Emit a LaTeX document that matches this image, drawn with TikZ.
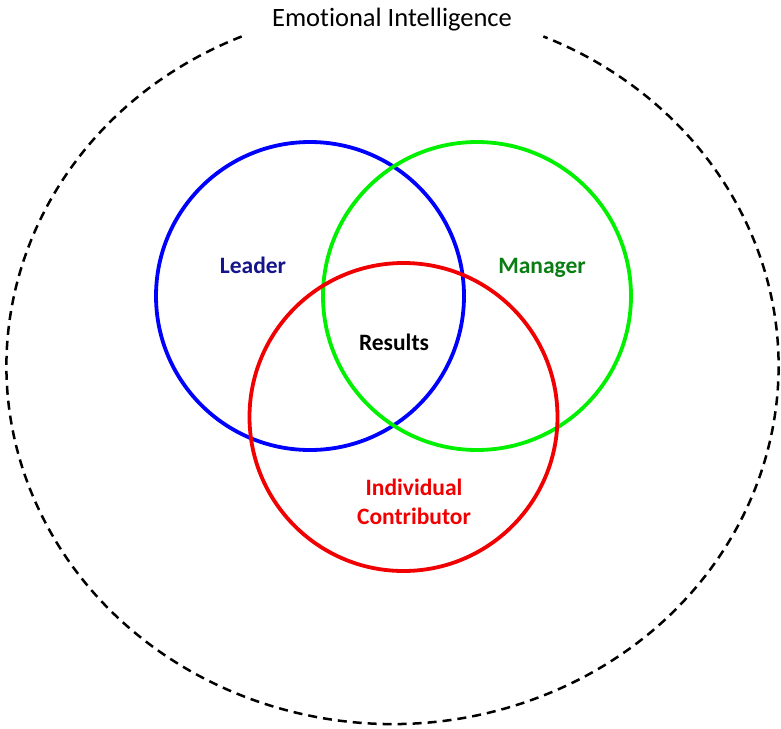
\documentclass[tikz,border=0pt]{standalone}
\usepackage{fontspec}
\setmainfont[Ligatures=NoCommon]{Carlito}
\usepackage{xcolor}
\usetikzlibrary{positioning}
\definecolor{ringblue}{RGB}{0,0,255}
\definecolor{ringgreen}{RGB}{0,240,0}
\definecolor{ringred}{RGB}{240,0,0}
\definecolor{leadertext}{RGB}{20,20,140}
\definecolor{managertext}{RGB}{10,125,20}

\begin{document}
\begin{tikzpicture}[x=1pt,y=-1pt,
  ring/.style={draw=#1,circle,line width=3.8pt,minimum size=308pt,inner sep=0pt},
  tag/.style={font=\bfseries\fontsize{23.5}{29}\selectfont,align=center}]
  \useasboundingbox (0,0) rectangle (781,728);
  % outer boundary
  \coordinate (ei) at (392.5,366);
  \node[font=\fontsize{26.5}{30}\selectfont] (title) at (392,20) {Emotional Intelligence};
  \draw[dash pattern=on 9pt off 6pt,line width=2.5pt]
    ([shift={(113:386pt and 358pt)}]ei) arc[start angle=113,end angle=427,x radius=386pt,y radius=358pt];
  % the three roles
  \node[ring=ringblue] (leader) at (310,296) {};
  \node[ring=ringgreen] (manager) at (477,296) {};
  \node[ring=ringred] (contrib) at (403.5,417) {};
  \node[tag,text=leadertext] (leaderlbl) at (253,265) {Leader};
  \node[tag,text=managertext] (managerlbl) at (542,267.5) {Manager};
  \node[tag] (results) at (394,342) {Results};
  \node[tag,text=ringred] (contriblbl) at (414,502) {Individual\\Contributor};
\end{tikzpicture}
\end{document}
